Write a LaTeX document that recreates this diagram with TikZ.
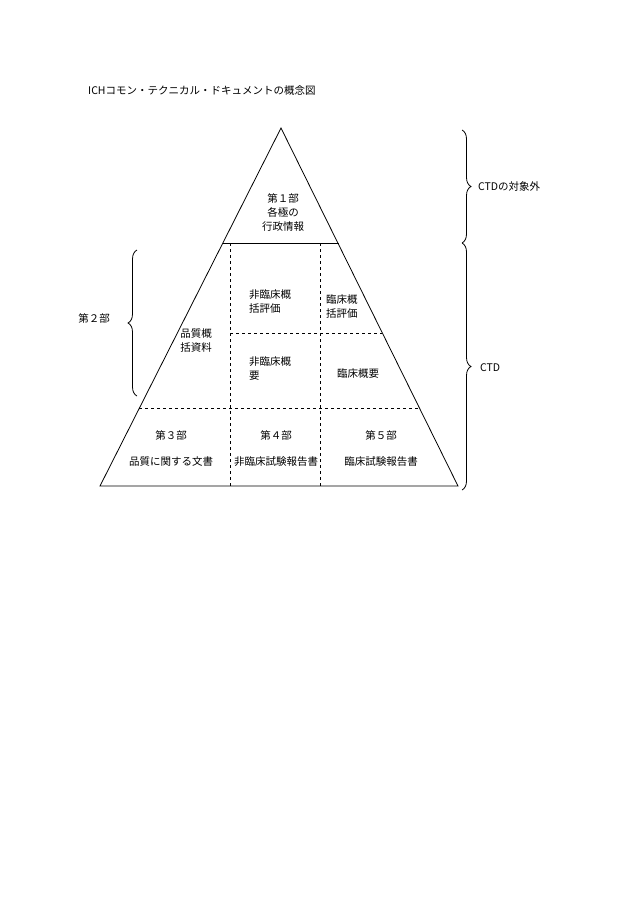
\documentclass[tikz,border=0pt]{standalone}
\usepackage{fontspec}
\setmainfont{Noto Sans CJK JP}
\usetikzlibrary{decorations.pathreplacing}
\begin{document}
\begin{tikzpicture}[x=1pt,y=-1pt,font=\fontsize{10.5}{14}\selectfont,
  lbl/.style={align=center,inner sep=0pt},
  lbll/.style={align=left,inner sep=0pt,anchor=west},
  dsh/.style={dashed,line width=0.7pt},
  br/.style={decorate,decoration={brace,amplitude=9pt},line width=0.8pt}]
\useasboundingbox (0,0) rectangle (630,916);
\coordinate (A) at (281,128);
\coordinate (BL) at (100,486);
\coordinate (BR) at (458,486);
\draw[line width=0.8pt] (A) -- (BL) -- (BR) -- cycle;
\coordinate (l243) at (223,243); \coordinate (r243) at (339,243);
\draw[line width=0.8pt] (l243) -- (r243);
\coordinate (l408) at (139,408); \coordinate (r408) at (419,408);
\draw[dsh] (l408) -- (r408);
\coordinate (v1t) at (230,243); \coordinate (v1b) at (230,486);
\coordinate (v2t) at (320,243); \coordinate (v2b) at (320,486);
\draw[dsh] (v1t) -- (v1b); \draw[dsh] (v2t) -- (v2b);
\coordinate (m1) at (230,333); \coordinate (m2) at (382,333);
\draw[dsh] (m1) -- (m2);
\coordinate (b1t) at (462,130); \coordinate (b1b) at (462,243);
\coordinate (b2b) at (462,490);
\draw[br] (b1t) -- (b1b);
\draw[br] (b1b) -- (b2b);
\coordinate (b3t) at (137,250); \coordinate (b3b) at (137,396);
\draw[br] (b3b) -- (b3t);
\node[lbll] (title) at (88,91) {ICHコモン・テクニカル・ドキュメントの概念図};
\node[lbl] (p1) at (283,212) {第１部\\各極の\\行政情報};
\node[lbl] (qos) at (196,341) {品質概\\括資料};
\node[lbll] (nco) at (249,301) {非臨床概\\括評価};
\node[lbll] (co) at (326,306) {臨床概\\括評価};
\node[lbll] (ncs) at (249,369) {非臨床概\\要};
\node[lbl] (cs) at (358,374) {臨床概要};
\node[lbl] (p3) at (171,435) {第３部};
\node[lbl] (q3) at (171,462) {品質に関する文書};
\node[lbl] (p4) at (276,435) {第４部};
\node[lbl] (q4) at (276,462) {非臨床試験報告書};
\node[lbl] (p5) at (381,435) {第５部};
\node[lbl] (q5) at (381,462) {臨床試験報告書};
\node[lbl] (p2) at (94,318) {第２部};
\node[lbll] (out) at (478,187) {CTDの対象外};
\node[lbll] (ctd) at (480,368) {CTD};
\end{tikzpicture}
\end{document}
